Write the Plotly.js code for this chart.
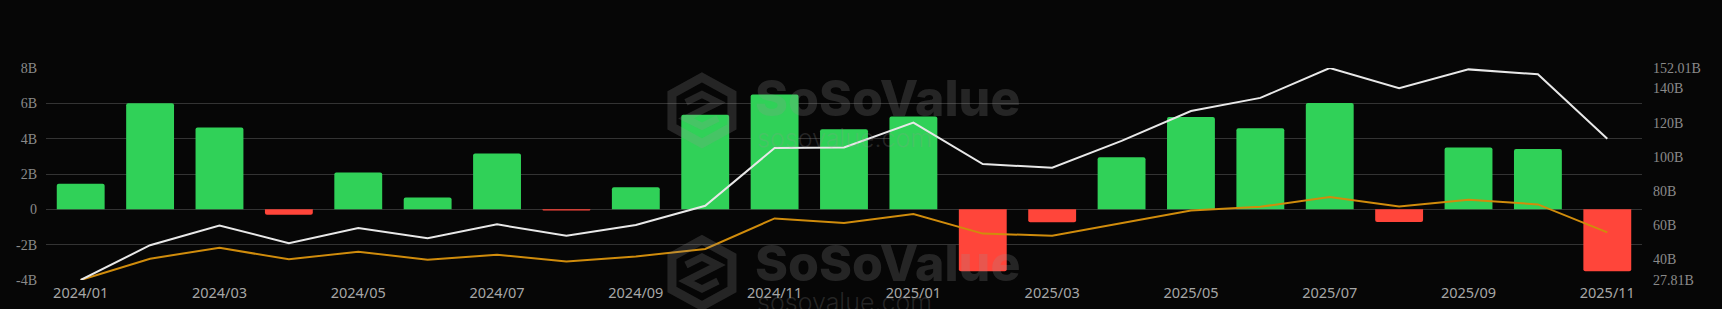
<!DOCTYPE html>
<html>
<head>
<meta charset="utf-8">
<script src="https://cdn.plot.ly/plotly-3.0.1.min.js"></script>
<style>
  html, body { margin: 0; padding: 0; background: #060606; }
  #chart { width: 1722px; height: 309px; }
</style>
</head>
<body>
<div id="chart"></div>
<script>
// ---- Data ----
const months = [
  "2024/01","2024/02","2024/03","2024/04","2024/05","2024/06","2024/07","2024/08",
  "2024/09","2024/10","2024/11","2024/12","2025/01","2025/02","2025/03","2025/04",
  "2025/05","2025/06","2025/07","2025/08","2025/09","2025/10","2025/11"
];
// Monthly net flow (B) - bars, left axis
const netFlow = [1.45, 6.0, 4.63, -0.30, 2.08, 0.67, 3.16, -0.07, 1.25, 5.35, 6.50, 4.54,
                 5.26, -3.51, -0.73, 2.95, 5.23, 4.59, 6.02, -0.72, 3.50, 3.41, -3.50];
// White line (B) - right axis
const whiteLine = [27.81, 48.2, 59.7, 49.4, 58.3, 52.3, 60.4, 53.8, 60.0, 71.3, 105.1, 105.5,
                   120.0, 95.7, 93.6, 109.3, 126.8, 134.5, 152.01, 140.1, 151.2, 148.3, 110.5];
// Orange line (B) - right axis
const orangeLine = [27.81, 40.3, 46.7, 39.9, 44.4, 39.7, 42.6, 38.7, 41.6, 46.0, 63.9, 61.2,
                    66.5, 55.0, 53.8, 61.3, 68.5, 70.7, 76.5, 70.9, 74.8, 72.1, 55.7];

const leftTicks = [-4, -2, 0, 2, 4, 6, 8];
const leftTickText = ["-4B", "-2B", "0", "2B", "4B", "6B", "8B"];
const rightTicks = [27.81, 40, 60, 80, 100, 120, 140, 152.01];
const rightTickText = ["27.81B", "40B", "60B", "80B", "100B", "120B", "140B", "152.01B"];
const xTickVals = months.filter((m, i) => i % 2 === 0);

// ---- Styles ----
const GREEN = "#30d158";
const RED = "#ff453a";
const WM = "rgba(150,150,150,0.22)";

const traces = [
  {
    type: "bar",
    x: months,
    y: netFlow,
    marker: { color: netFlow.map(v => v >= 0 ? GREEN : RED), cornerradius: 2 },
    yaxis: "y",
    hoverinfo: "x+y"
  },
  {
    type: "scatter",
    mode: "lines",
    x: months,
    y: orangeLine,
    yaxis: "y2",
    line: { color: "#d08c0c", width: 2 }
  },
  {
    type: "scatter",
    mode: "lines",
    x: months,
    y: whiteLine,
    yaxis: "y2",
    line: { color: "#e8e8e8", width: 2 }
  }
];

function hexPath(rx, ry) {
  const pts = [[0, ry], [rx, ry / 2], [rx, -ry / 2], [0, -ry], [-rx, -ry / 2], [-rx, ry / 2]];
  return "M " + pts.map(p => p[0] + "," + p[1]).join(" L ") + " Z";
}
function innerPath() {
  return "M -16,8 L 0,16 L 16,8 L 0,0 L -16,-8 L 0,-16 L 16,-8";
}

function logoShapes(xa, ya) {
  return [
    { type: "path", xref: "paper", yref: "paper", xsizemode: "pixel", ysizemode: "pixel",
      xanchor: xa, yanchor: ya, path: hexPath(30, 33), line: { color: WM, width: 9 }, layer: "above" },
    { type: "path", xref: "paper", yref: "paper", xsizemode: "pixel", ysizemode: "pixel",
      xanchor: xa, yanchor: ya, path: innerPath(), line: { color: WM, width: 7 }, layer: "above" }
  ];
}

function wmText(x, y, text, size, weight) {
  return { xref: "paper", yref: "paper", x: x, y: y, xanchor: "center", yanchor: "middle",
    text: text, showarrow: false,
    font: { family: "Inter, Roboto, sans-serif", size: size, weight: weight, color: WM } };
}

const layout = {
  width: 1722,
  height: 309,
  paper_bgcolor: "#060606",
  plot_bgcolor: "#060606",
  showlegend: false,
  bargap: 0.31,
  margin: { l: 46, r: 80, t: 68, b: 29 },
  xaxis: {
    type: "category",
    tickmode: "array",
    tickvals: xTickVals,
    ticktext: xTickVals,
    showgrid: false,
    zeroline: false,
    showline: false,
    ticks: "",
    tickfont: { family: "Noto Sans, Open Sans, sans-serif", size: 14.5, color: "#a6a6a6" },
    ticklabelstandoff: 2
  },
  yaxis: {
    range: [-4, 8],
    tickmode: "array",
    tickvals: leftTicks,
    ticktext: leftTickText,
    showgrid: true,
    gridcolor: "#333333",
    gridwidth: 1,
    zeroline: false,
    showline: false,
    ticks: "",
    tickfont: { family: "Liberation Serif, Times New Roman, serif", size: 14, color: "#8a8a8a" },
    ticklabelstandoff: 8
  },
  yaxis2: {
    overlaying: "y",
    side: "right",
    range: [27.81, 152.01],
    tickmode: "array",
    tickvals: rightTicks,
    ticktext: rightTickText,
    showgrid: false,
    zeroline: false,
    showline: false,
    ticks: "",
    tickfont: { family: "Liberation Serif, Times New Roman, serif", size: 14, color: "#8a8a8a" },
    ticklabelstandoff: 10
  },
  shapes: [].concat(logoShapes(0.411, 0.80), logoShapes(0.411, 0.033)),
  annotations: [
    wmText(0.527, 0.857, "SoSoValue", 50, 800),
    wmText(0.5006, 0.671, "sosovalue.com", 25, 300),
    wmText(0.527, 0.0824, "SoSoValue", 50, 800),
    wmText(0.5006, -0.1036, "sosovalue.com", 25, 300)
  ]
};

Plotly.newPlot("chart", traces, layout, { displayModeBar: false, staticPlot: true });
</script>
</body>
</html>
